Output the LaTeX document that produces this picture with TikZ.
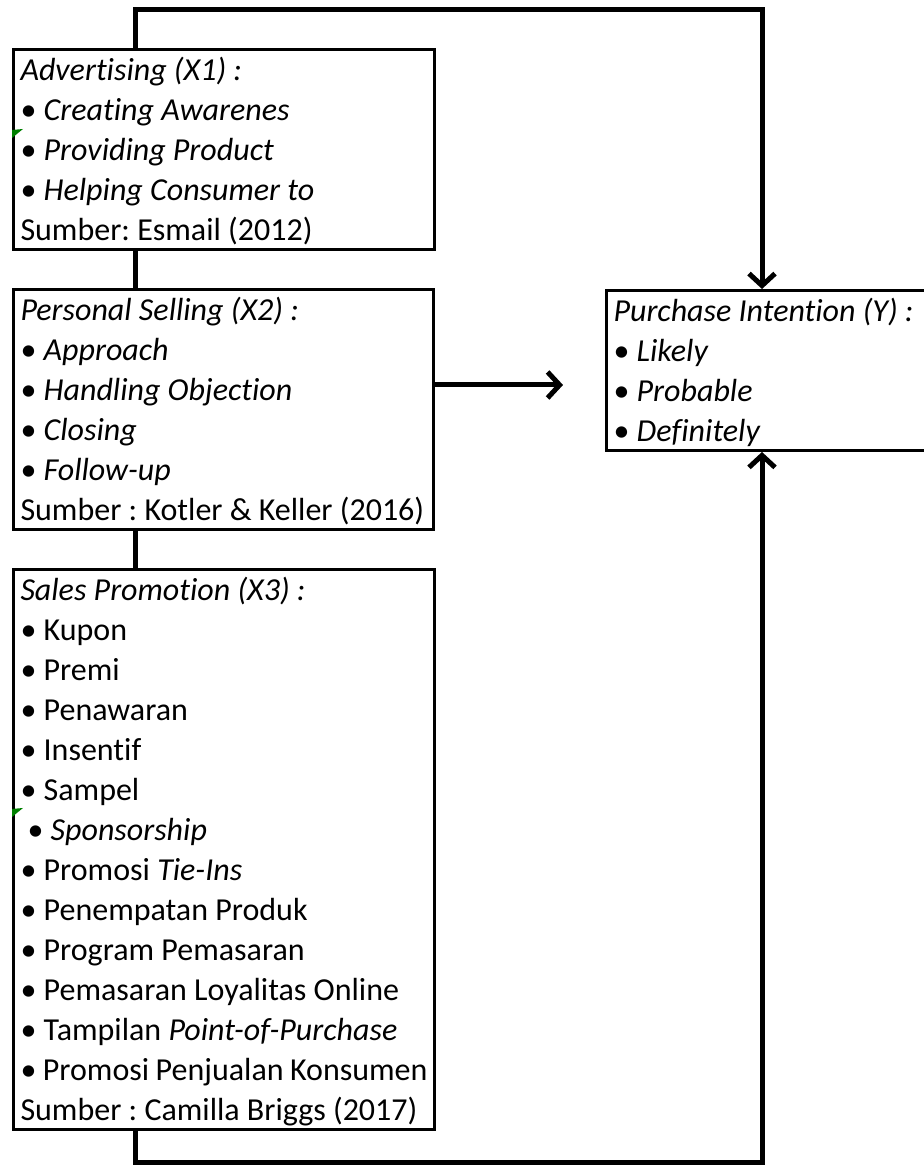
\documentclass[tikz,border=0pt]{standalone}
\usepackage{fontspec}
\setmainfont{Carlito}[Ligatures=NoCommon]
\usetikzlibrary{arrows.meta,positioning}

\newcommand{\rowstrut}{\rule[-9pt]{0pt}{40pt}}
\newcommand{\pnt}{\textbullet\ }
\frenchspacing

\begin{document}
\begin{tikzpicture}[x=1pt, y=1pt,
    >={Straight Barb[length=12pt, width=26pt]},
    box/.style={draw, line width=3pt, anchor=north west, align=flush left,
        inner xsep=7pt, inner ysep=0pt, font=\fontsize{32}{40}\selectfont},
    link/.style={line width=5pt},
    greenmark/.style={fill=green!50!black}]
    \useasboundingbox (0,0) rectangle (923,1169);

    % Variable boxes
    \node[box, text width=407pt] (adv) at (12,1121) {%
        \rowstrut\textit{Advertising (X1) :}\\
        \rowstrut\pnt\textit{Creating Awarenes}\\
        \rowstrut\pnt\textit{Providing Product}\\
        \rowstrut\pnt\textit{Helping Consumer to}\\
        \rowstrut Sumber: Esmail (2012)};
    \node[box, text width=406pt] (sell) at (12,881) {%
        \rowstrut\textit{Personal Selling (X2) :}\\
        \rowstrut\pnt\textit{Approach}\\
        \rowstrut\pnt\textit{Handling Objection}\\
        \rowstrut\pnt\textit{Closing}\\
        \rowstrut\pnt\textit{Follow-up}\\
        \rowstrut Sumber : Kotler \& Keller (2016)};
    \node[box, text width=407pt] (promo) at (12,601) {%
        \rowstrut\textit{Sales Promotion (X3) :}\\
        \rowstrut\pnt Kupon\\
        \rowstrut\pnt Premi\\
        \rowstrut\pnt Penawaran\\
        \rowstrut\pnt Insentif\\
        \rowstrut\pnt Sampel\\
        \rowstrut\hspace{7pt}\pnt\textit{Sponsorship}\\
        \rowstrut\pnt Promosi \textit{Tie-Ins}\\
        \rowstrut\pnt Penempatan Produk\\
        \rowstrut\pnt Program Pemasaran\\
        \rowstrut\pnt Pemasaran Loyalitas Online\\
        \rowstrut\pnt Tampilan \textit{Point-of-Purchase}\\
        \rowstrut\pnt Promosi Penjualan Konsumen\\
        \rowstrut Sumber : Camilla Briggs (2017)};
    \node[box, text width=316pt] (intent) at (605,880) {%
        \rowstrut\textit{Purchase Intention (Y) :}\\
        \rowstrut\pnt\textit{Likely}\\
        \rowstrut\pnt\textit{Probable}\\
        \rowstrut\pnt\textit{Definitely}};

    % Helper points for the connectors
    \coordinate (spine) at (135,0);
    \coordinate (topturn) at (762,1159);
    \coordinate (baseturn) at (762,6);
    \coordinate (aim) at (563,784);

    % Connectors
    \draw[link,->] (adv.north -| spine) |- (topturn) -- (intent.north -| topturn);
    \draw[link] (adv.south -| spine) -- (sell.north -| spine);
    \draw[link] (sell.south -| spine) -- (promo.north -| spine);
    \draw[link,->] (promo.south -| spine) |- (baseturn) -- (intent.south -| baseturn);
    \draw[link,->] (sell.east |- aim) -- (aim);

    % Small green marks on the left edges
    \fill[greenmark] (12,1039) -- (23,1040) -- (12,1031) -- cycle;
    \fill[greenmark] (12,360) -- (23,361) -- (12,352) -- cycle;
\end{tikzpicture}
\end{document}
